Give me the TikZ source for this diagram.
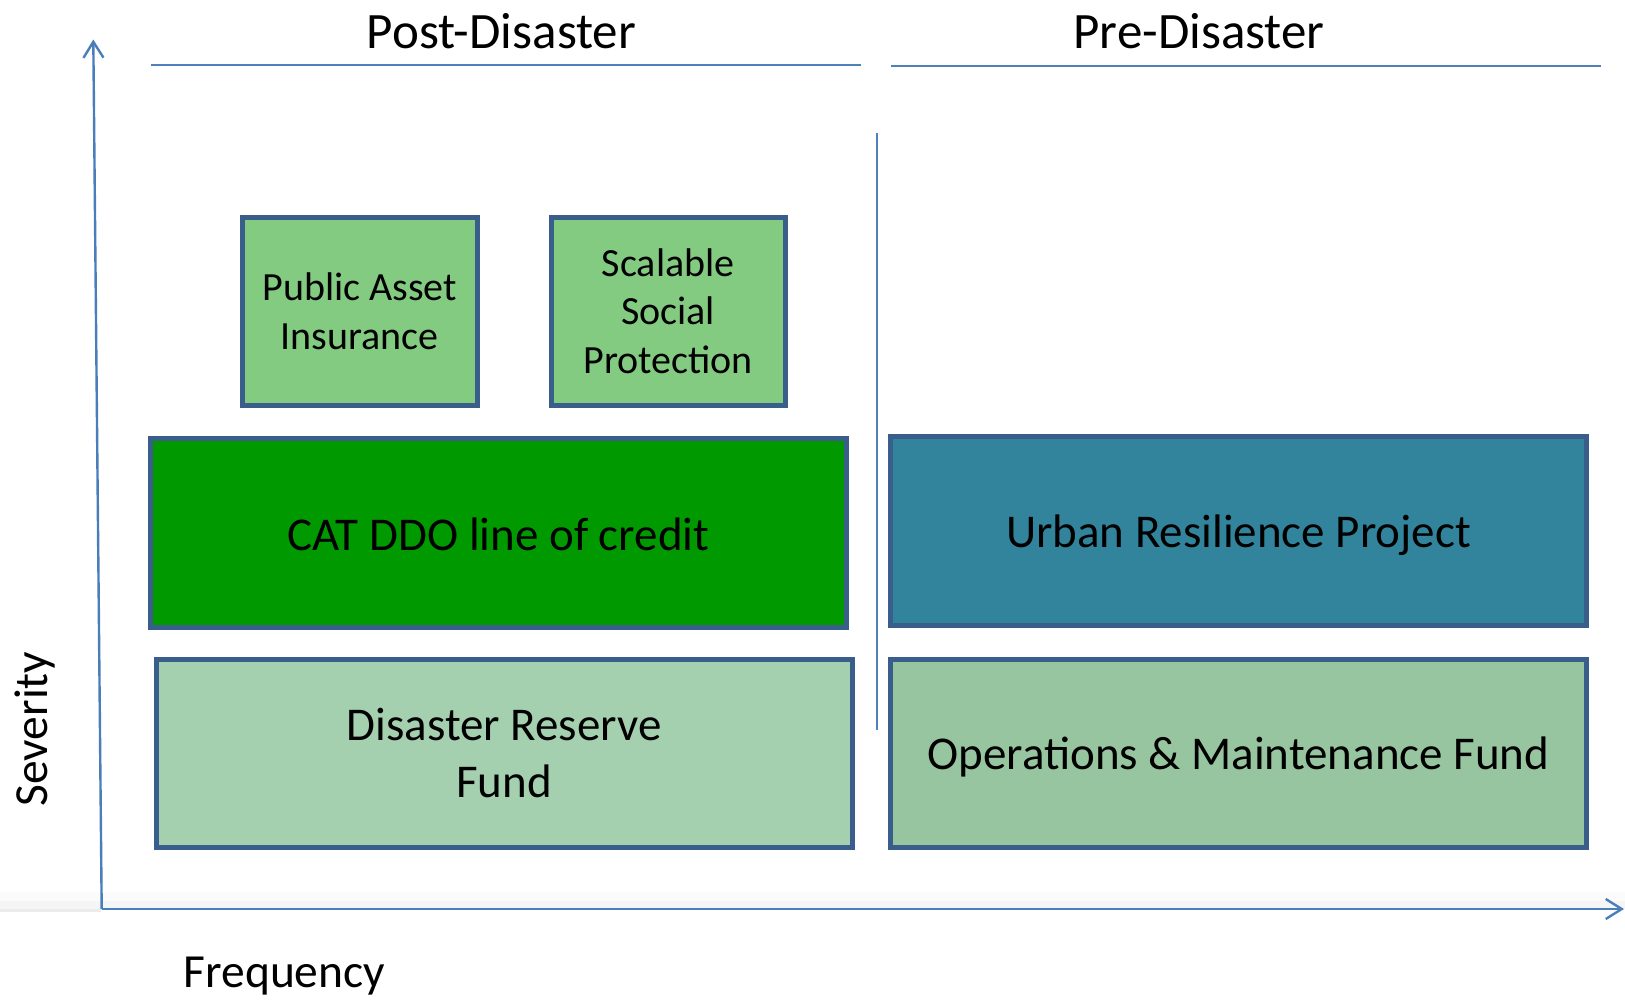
\documentclass[tikz,border=0pt]{standalone}
\usepackage{fontspec}
\setmainfont{Carlito}
\usetikzlibrary{arrows.meta}
\definecolor{axisblue}{HTML}{4A7EBB}
\definecolor{lineblue}{HTML}{4F81BD}
\definecolor{boxborder}{HTML}{3A5E8C}
\definecolor{lightgreen}{HTML}{82CB81}
\definecolor{catgreen}{HTML}{009900}
\definecolor{reservegreen}{HTML}{A4D0B0}
\definecolor{urbanteal}{HTML}{31849B}
\definecolor{omgreen}{HTML}{97C59F}
\definecolor{shadeA}{HTML}{FBFBFB}
\definecolor{shadeB}{HTML}{F5F5F5}
\definecolor{shadeC}{HTML}{EBEBEB}
\tikzset{
  box/.style={draw=boxborder, line width=5pt, inner sep=0pt, align=center,
    font=\fontsize{47}{57}\selectfont},
  smallbox/.style={box, font=\fontsize{40}{48.5}\selectfont},
  header/.style={font=\fontsize{51}{60}\selectfont, inner sep=0pt, anchor=base},
  axislabel/.style={font=\fontsize{47.5}{58}\selectfont, inner sep=0pt},
  axisline/.style={draw=axisblue, line width=2.4pt, -{Straight Barb[length=16pt,width=20pt,line width=2.4pt]}},
  headline/.style={draw=lineblue, line width=2pt},
  divider/.style={draw=lineblue, line width=2pt}
}
\begin{document}
\begin{tikzpicture}[x=1pt, y=-1pt]
\useasboundingbox (0,0) rectangle (1625,999);
% faint shading band near the horizontal axis
\fill[shadeA] (0,892) rectangle (1625,901);
\fill[shadeB] (0,901) rectangle (1625,909);
\fill[shadeC] (0,909) rectangle (101,912);

% axes
\coordinate (origin) at (101.7,909);
\coordinate (ytip) at (93.3,39.5);
\coordinate (xtip) at (1624,909);
\draw[axisline] (origin) -- (ytip);
\draw[axisline] (origin) -- (xtip);

% headers
\node[header] (post) at (501.5,48.5) {Post-Disaster};
\node[header] (pre) at (1199,48.5) {Pre-Disaster};
\coordinate (postL) at (151,65.3);
\coordinate (postR) at (861,65.3);
\coordinate (preL) at (891,66);
\coordinate (preR) at (1601,66);
\draw[headline] (postL) -- (postR);
\draw[headline] (preL) -- (preR);

% divider
\coordinate (divT) at (876.5,132.5);
\coordinate (divB) at (876.5,730);
\draw[divider] (divT) -- (divB);

% boxes
\node[smallbox, fill=lightgreen, minimum width=234.5pt, minimum height=187.5pt] (pai) at (359.75,311.25) {Public Asset\\Insurance};
\node[smallbox, fill=lightgreen, minimum width=234.5pt, minimum height=187.5pt] (ssp) at (668.25,311.25) {Scalable\\Social\\Protection};
\node[box, fill=catgreen, minimum width=695.3pt, minimum height=188.5pt] (cat) at (498.35,532.75) {\raisebox{-1.5pt}[\height][\depth]{CAT DDO line of credit}};
\node[box, fill=reservegreen, minimum width=695.6pt, minimum height=188.3pt] (drf) at (504.2,753.35) {Disaster Reserve\\Fund};
\node[box, fill=urbanteal, minimum width=695.2pt, minimum height=188.2pt] (urp) at (1238.4,530.9) {\raisebox{-4.5pt}[\height][\depth]{Urban Resilience Project}};
\node[box, fill=omgreen, minimum width=695.2pt, minimum height=187.7pt] (om) at (1238.4,753.65) {\raisebox{-3pt}[\height][\depth]{Operations \& Maintenance Fund}};

% axis labels
\node[axislabel, rotate=90, anchor=base] (sev) at (47,729) {Severity};
\node[axislabel, anchor=base west] (freq) at (183.5,987) {Frequency};
\end{tikzpicture}
\end{document}
